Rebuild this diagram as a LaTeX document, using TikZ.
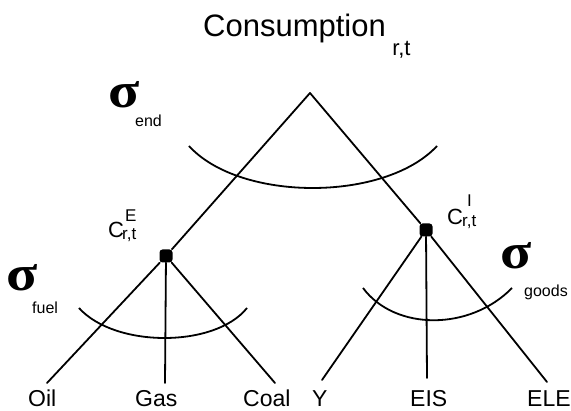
\documentclass[tikz,border=0pt]{standalone}
\usepackage{fontspec}
\usepackage{graphicx}
\setmainfont{Liberation Sans}
\newfontfamily\greekfont{Liberation Serif}
\usetikzlibrary{positioning}

\newcommand{\sigwide}{\scalebox{1.15}[1]{σ}}

\begin{document}
\begin{tikzpicture}[
  x=1pt, y=-1pt,
  branch/.style={line width=1.8pt, line cap=round},
  elast/.style={line width=1.8pt},
  junction/.style={rectangle, fill=black, minimum size=13pt, inner sep=0pt, rounded corners=3pt},
  leaf/.style={anchor=base west, inner sep=0pt, font=\fontsize{23}{26}\selectfont},
  sig/.style={anchor=base west, inner sep=0pt, font=\greekfont\bfseries\fontsize{50}{52}\selectfont},
  sigsub/.style={anchor=base west, inner sep=0pt, font=\fontsize{16}{18}\selectfont},
  cname/.style={anchor=base west, inner sep=0pt, font=\fontsize{22}{24}\selectfont},
  cidx/.style={anchor=base west, inner sep=0pt, font=\fontsize{17}{19}\selectfont},
]
\useasboundingbox (0,0) rectangle (571,411);

% title
\node[anchor=base west, inner sep=0pt, font=\fontsize{31}{34}\selectfont] (title) at (203,37) {Consumption};
\node[anchor=base west, inner sep=0pt, font=\fontsize{22}{24}\selectfont] (titleidx)
  at ([xshift=6pt, yshift=-19pt]title.base east) {r,t};

% nests
\coordinate (top) at (310,93);
\node[junction] (cE) at (166,256) {};
\node[junction] (cI) at (426,230) {};

% leaf ends
\coordinate (oilEnd) at (47,383);
\coordinate (gasEnd) at (165,383);
\coordinate (coalEnd) at (275,383);
\coordinate (yEnd) at (322,380);
\coordinate (eisEnd) at (427,378);
\coordinate (eleEnd) at (547,382);

\draw[branch] (top) -- (cE);
\draw[branch] (top) -- (cI);
\draw[branch] (cE) -- (oilEnd);
\draw[branch] (cE) -- (gasEnd);
\draw[branch] (cE) -- (coalEnd);
\draw[branch] (cI) -- (yEnd);
\draw[branch] (cI) -- (eisEnd);
\draw[branch] (cI) -- (eleEnd);

% elasticity arcs
\draw[elast] (189,146) .. controls (240,202) and (385,202) .. (437,146);
\draw[elast] (79,308) .. controls (115,348) and (215,348) .. (247,308);
\draw[elast] (363,288) .. controls (395,331) and (470,331) .. (512,288);

% sigma labels
\node[sig] (sEnd) at (108,108) {\sigwide};
\node[sigsub] (sEndSub) at (135,127) {end};
\node[sig] (sFuel) at (6,291) {\sigwide};
\node[sigsub] (sFuelSub) at (32,314) {fuel};
\node[sig] (sGoods) at (500,269) {\sigwide};
\node[sigsub] (sGoodsSub) at (524,297) {goods};

% nest labels
\node[cname] (lE) at (108,238) {C};
\node[cidx] (lEsup) at (125,222) {E};
\node[cidx] (lEsub) at (122,240) {r,t};
\node[cname] (lI) at (447,225) {C};
\node[cidx] (lIsup) at (467,207) {I};
\node[cidx] (lIsub) at (462,227) {r,t};

% leaves
\node[leaf] (oil) at (28,407) {Oil};
\node[leaf] (gas) at (135,407) {Gas};
\node[leaf] (coal) at (243,407) {Coal};
\node[leaf] (y) at (312,407) {Y};
\node[leaf] (eis) at (410,407) {EIS};
\node[leaf] (ele) at (527,407) {ELE};
\end{tikzpicture}
\end{document}
